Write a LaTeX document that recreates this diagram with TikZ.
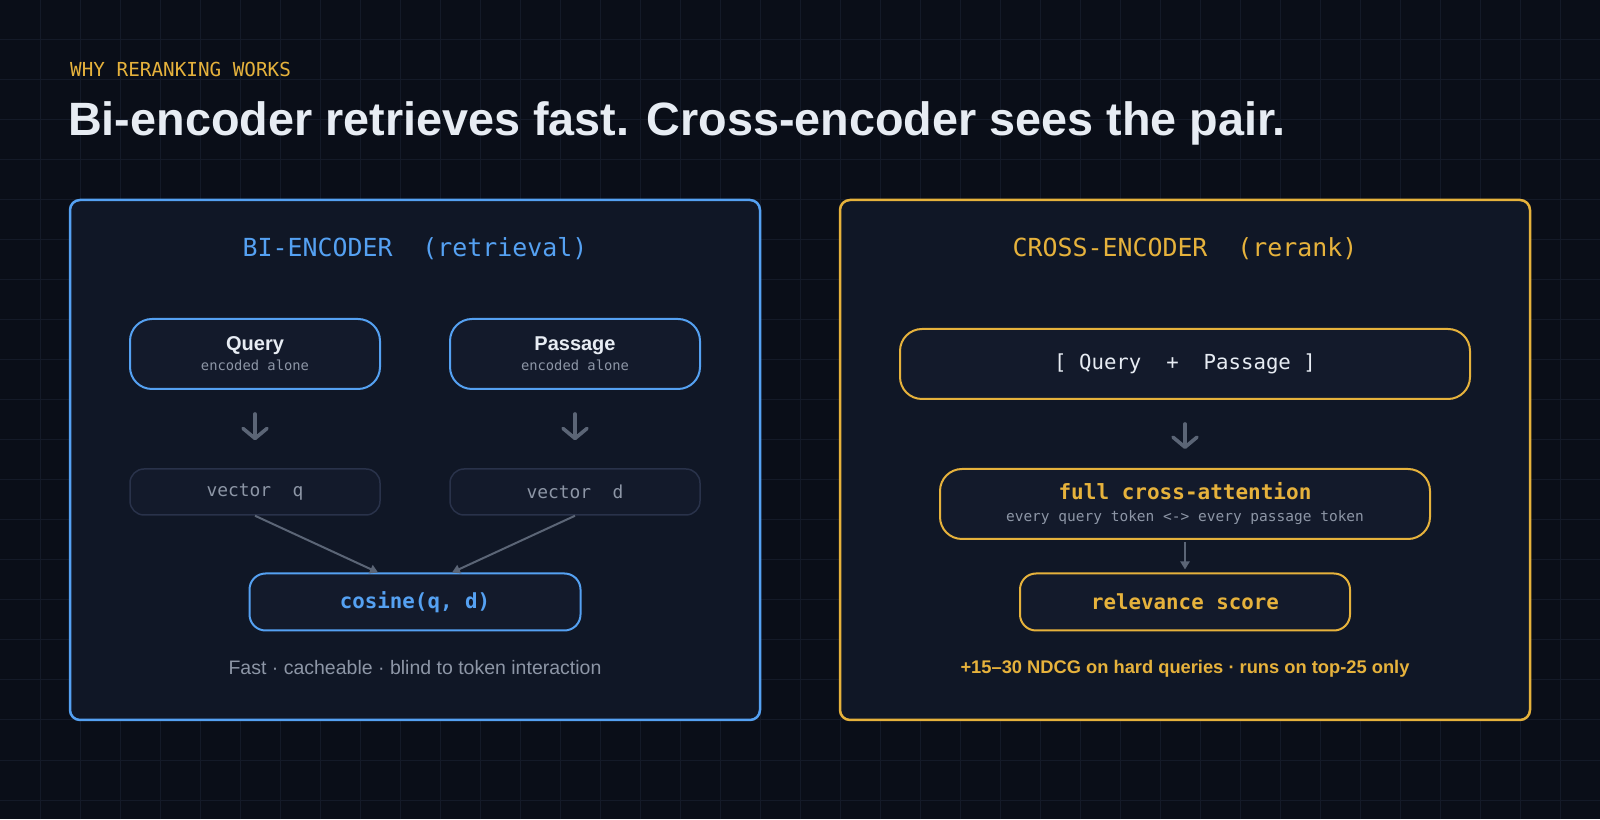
\documentclass[tikz,border=0pt]{standalone}
\usepackage{fontspec}
\setmainfont{Liberation Sans}
\setmonofont{DejaVu Sans Mono}
\usetikzlibrary{arrows.meta,positioning}
\definecolor{bgc}{HTML}{0A0E18}
\definecolor{gridc}{HTML}{141A28}
\definecolor{panelc}{HTML}{101726}
\definecolor{boxc}{HTML}{131A2B}
\definecolor{bluec}{HTML}{55A1F2}
\definecolor{goldc}{HTML}{E6B23C}
\definecolor{whitec}{HTML}{E7ECF3}
\definecolor{graytxt}{HTML}{8D96A6}
\definecolor{arrowc}{HTML}{5B6576}
\definecolor{vecline}{HTML}{29324A}

\begin{document}
\begin{tikzpicture}[x=1pt,y=1pt,
  panel/.style={rounded corners=10pt,line width=2.5pt,fill=panelc,minimum width=690pt,minimum height=520pt,inner sep=0pt},
  ptitle/.style={font=\ttfamily\fontsize{24.9}{28}\selectfont},
  inbox/.style={rounded corners=22pt,line width=2pt,fill=boxc,align=center,inner sep=0pt,text=whitec},
  vecbox/.style={draw=vecline,rounded corners=14pt,line width=1.5pt,fill=boxc,minimum width=250pt,minimum height=46pt,text=graytxt,font=\ttfamily\fontsize{17.9}{20}\selectfont},
  dnarrow/.style={draw=arrowc,line width=3.6pt,line cap=round,-{Straight Barb[length=10pt,width=24pt,round]}},
  thinarrow/.style={draw=arrowc,line width=2pt,-{Triangle[length=8pt,width=9pt]}}]
\useasboundingbox (0,0) rectangle (1600,819);
\fill[bgc] (0,0) rectangle (1600,819);
\foreach \gx in {40,80,...,1560} \draw[gridc,line width=1pt] (\gx,0) -- (\gx,819);
\foreach \k in {1,...,20} \draw[gridc,line width=1pt] (0,{819-40*\k}) -- (1600,{819-40*\k});

\node[anchor=base west,inner sep=0pt,text=goldc,font=\ttfamily\fontsize{19.3}{21}\selectfont] (eyebrow) at (70,742.5) {WHY RERANKING WORKS};
\node[anchor=base west,inner sep=0pt,text=whitec,font=\bfseries\fontsize{46.75}{50}\selectfont] (title) at (68,683) {Bi-encoder retrieves fast. Cross-encoder sees the pair.};

\node[panel,draw=bluec] (lp) at (415,359) {};
\node[ptitle,text=bluec] (lt) at (415,570) {BI-ENCODER~~(retrieval)};
\node[inbox,draw=bluec,minimum width=250pt,minimum height=70pt,font=\fontsize{20}{20}\selectfont] (q) at (255,465) {\textbf{Query}\\{\ttfamily\fontsize{13.8}{15}\selectfont\color{graytxt}encoded alone}};
\node[inbox,draw=bluec,minimum width=250pt,minimum height=70pt,font=\fontsize{20}{20}\selectfont] (p) at (575,465) {\textbf{Passage}\\{\ttfamily\fontsize{13.8}{15}\selectfont\color{graytxt}encoded alone}};
\node[vecbox] (vq) at (255,327) {vector~~q};
\node[vecbox] (vd) at (575,327) {vector~~d};
\node[inbox,draw=bluec,rounded corners=16pt,minimum width=331pt,minimum height=57pt,text=bluec,font=\ttfamily\bfseries\fontsize{20.8}{22}\selectfont] (cos) at (415,217) {cosine(q, d)};
\node[text=graytxt,font=\fontsize{19.5}{22}\selectfont] (lnote) at (415,151) {Fast · cacheable · blind to token interaction};
\draw[dnarrow,shorten <=24pt,shorten >=28pt] (q) -- (vq);
\draw[dnarrow,shorten <=24pt,shorten >=28pt] (p) -- (vd);
\draw[thinarrow] (vq.south) -- ([xshift=-37pt]cos.north);
\draw[thinarrow] (vd.south) -- ([xshift=37pt]cos.north);

\node[panel,draw=goldc] (rp) at (1185,359) {};
\node[ptitle,text=goldc] (rt) at (1185,570) {CROSS-ENCODER~~(rerank)};
\node[inbox,draw=goldc,minimum width=570pt,minimum height=70pt,font=\ttfamily\fontsize{20.7}{22}\selectfont] (qp) at (1185,455) {[ Query~~+~~Passage ]};
\node[inbox,draw=goldc,minimum width=490pt,minimum height=70pt,font=\fontsize{21}{22}\selectfont] (ca) at (1185,315) {{\ttfamily\bfseries\color{goldc}full cross-attention}\\{\ttfamily\fontsize{14.5}{16}\selectfont\color{graytxt}every query token <-> every passage token}};
\node[inbox,draw=goldc,rounded corners=16pt,minimum width=330pt,minimum height=57pt,text=goldc,font=\ttfamily\bfseries\fontsize{20.8}{22}\selectfont] (rel) at (1185,217) {relevance score};
\node[text=goldc,font=\bfseries\fontsize{18.3}{20}\selectfont] (rnote) at (1185,150) {+15–30 NDCG on hard queries · runs on top-25 only};
\draw[dnarrow,shorten <=24pt,shorten >=19pt] (qp) -- (ca);
\draw[thinarrow,shorten <=2pt,shorten >=3pt] (ca) -- (rel);
\end{tikzpicture}
\end{document}
